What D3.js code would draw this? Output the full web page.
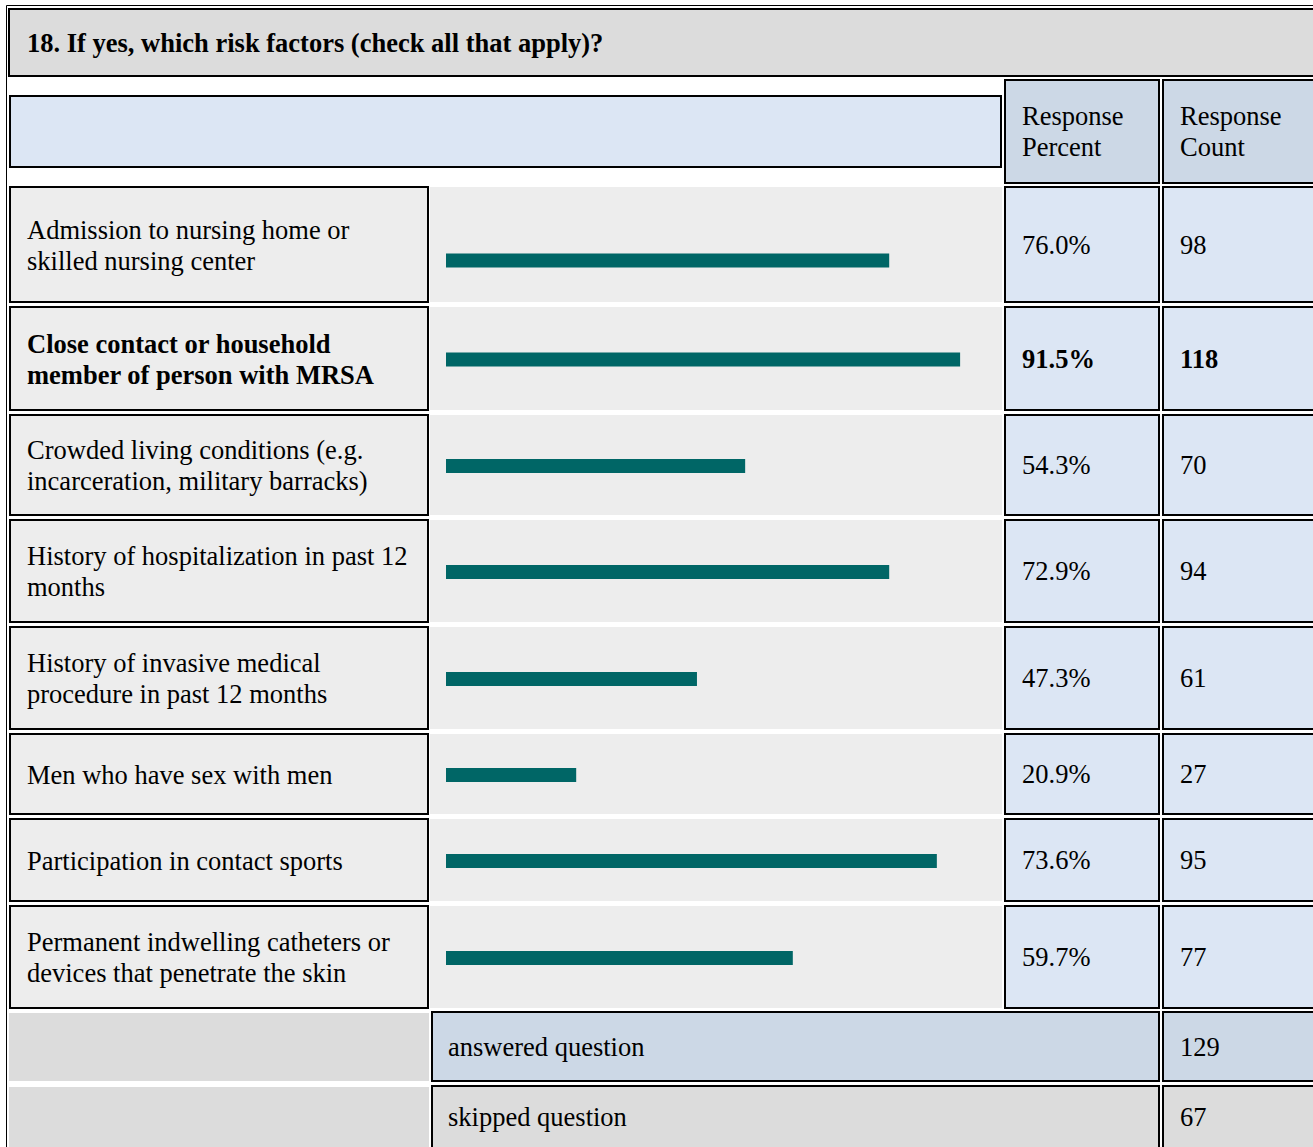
<!DOCTYPE html>
<html>
<head>
<meta charset="utf-8">
<script src="https://cdn.jsdelivr.net/npm/d3@7"></script>
<style>
  html, body { margin: 0; padding: 0; background: #ffffff; }
  svg { display: block; }
  text { font-family: "Liberation Serif", "Times New Roman", serif; fill: #000; }
</style>
</head>
<body>
<script>
// ---------------- DATA ----------------
const title = "18. If yes, which risk factors (check all that apply)?";
const headerLabels = ["Response\nPercent", "Response\nCount"];
const categories = [
  "Admission to nursing home or\nskilled nursing center",
  "Close contact or household\nmember of person with MRSA",
  "Crowded living conditions (e.g.\nincarceration, military barracks)",
  "History of hospitalization in past 12\nmonths",
  "History of invasive medical\nprocedure in past 12 months",
  "Men who have sex with men",
  "Participation in contact sports",
  "Permanent indwelling catheters or\ndevices that penetrate the skin"
];
const responsePercent = [76.0, 91.5, 54.3, 72.9, 47.3, 20.9, 73.6, 59.7];
const responseCount = [98, 118, 70, 94, 61, 27, 95, 77];
// bar lengths as drawn in the picture (on a 0-100 bar scale)
const barLengths = [80.0, 92.8, 54.0, 80.0, 45.3, 23.5, 88.6, 62.6];
const footerLabels = ["answered question", "skipped question"];
const footerValues = [129, 67];

// ---------------- LAYOUT ----------------
const W = 1313, H = 1147;
const FONT = 26.5;
const LINE = 31;
const colLabel = [9, 429];
const colBar = [430, 1002];
const colPct = [1004, 1160];
const colCnt = [1161, 1322];
const rowHeights = [117, 105, 102, 104, 104, 82, 84, 104];
const rowGap = 3;
const firstRowTop = 186;

const C = {
  title: "#dcdcdc",
  headBlue: "#dce6f4",
  headDark: "#ccd8e6",
  cellBlue: "#dce6f4",
  label: "#ededed",
  barCell: "#ededed",
  bar: "#006666",
  gray: "#dcdcdc",
  line: "#000000"
};

const svg = d3.select("body").append("svg").attr("width", W).attr("height", H);

function box(x0, y0, x1, y1, fill, border) {
  const g = svg.append("g");
  if (border) {
    g.append("rect").attr("x", x0 + 1).attr("y", y0 + 1)
      .attr("width", x1 - x0 - 2).attr("height", y1 - y0 - 2)
      .attr("fill", fill).attr("stroke", C.line).attr("stroke-width", 2);
  } else {
    g.append("rect").attr("x", x0).attr("y", y0)
      .attr("width", x1 - x0).attr("height", y1 - y0).attr("fill", fill);
  }
  return g;
}

function multiText(x, cy, str, weight) {
  const lines = str.split("\n");
  const n = lines.length;
  const t = svg.append("text").attr("font-size", FONT).attr("font-weight", weight || "normal");
  lines.forEach((ln, i) => {
    const base = cy + (i - (n - 1) / 2) * LINE + FONT * 0.32;
    t.append("tspan").attr("x", x).attr("y", base).text(ln);
  });
  return t;
}

// outer table line
svg.append("path")
  .attr("d", `M${W + 5},5.5 H6.5 V${H + 5}`)
  .attr("fill", "none").attr("stroke", C.line).attr("stroke-width", 1);

// title
box(8, 8, W + 10, 77, C.title, true);
svg.append("text").attr("x", 27).attr("y", 44 + FONT * 0.32)
  .attr("font-size", FONT).attr("font-weight", "bold").text(title);

// header row
box(colLabel[0], 95, colBar[1], 168, C.headBlue, true);
box(colPct[0], 79, colPct[1], 184, C.headDark, true);
box(colCnt[0] + 1, 79, colCnt[1], 184, C.headDark, true);
multiText(colPct[0] + 18, 132, headerLabels[0]);
multiText(colCnt[0] + 19, 132, headerLabels[1]);

// rows
const rowTops = [];
rowHeights.reduce((acc, h) => { rowTops.push(acc); return acc + h + rowGap; }, firstRowTop);

const x = d3.scaleLinear().domain([0, 100]).range([colBar[0] + 16, colBar[1] - 2]);
const maxPct = d3.max(responsePercent);

const rows = categories.map((c, i) => ({
  label: c, pct: responsePercent[i], cnt: responseCount[i], bar: barLengths[i],
  top: rowTops[i], h: rowHeights[i]
}));

rows.forEach(r => {
  const y0 = r.top, y1 = r.top + r.h, cy = (y0 + y1) / 2;
  const bold = r.pct === maxPct ? "bold" : "normal";
  box(colLabel[0], y0, colLabel[1], y1, C.label, true);
  box(colBar[0], y0 + 1, colBar[1], y1 - 1, C.barCell, false);
  box(colPct[0], y0, colPct[1], y1, C.cellBlue, true);
  box(colCnt[0] + 1, y0, colCnt[1], y1, C.cellBlue, true);
  multiText(27, cy + 1.5, r.label, bold);
  multiText(colPct[0] + 18, cy + 1, d3.format(".1f")(r.pct) + "%", bold);
  multiText(colCnt[0] + 19, cy + 1, String(r.cnt), bold);
});

svg.append("g").selectAll("rect.bar").data(rows).join("rect")
  .attr("class", "bar")
  .attr("x", x(0))
  .attr("y", (d, i) => d.top + d.h / 2 - 6 + (i === 0 ? 15 : 0))
  .attr("width", d => x(d.bar) - x(0))
  .attr("height", 14)
  .attr("fill", C.bar);

// footer
const footTops = [1011, 1085];
const footH = [71, 63];
const footFill = [C.headDark, C.gray];
footerLabels.forEach((lab, i) => {
  const y0 = footTops[i], y1 = y0 + footH[i], cy = (y0 + y1) / 2;
  const yb = i === footerLabels.length - 1 ? H + 10 : y1;
  box(colLabel[0], y0 + 2, colLabel[1], yb - 1, C.gray, false);
  box(431, y0, colPct[1], yb, footFill[i], true);
  box(colCnt[0] + 1, y0, colCnt[1], yb, footFill[i], true);
  multiText(448, cy + 1, lab);
  multiText(colCnt[0] + 19, cy + 1, String(footerValues[i]));
});
</script>
</body>
</html>
